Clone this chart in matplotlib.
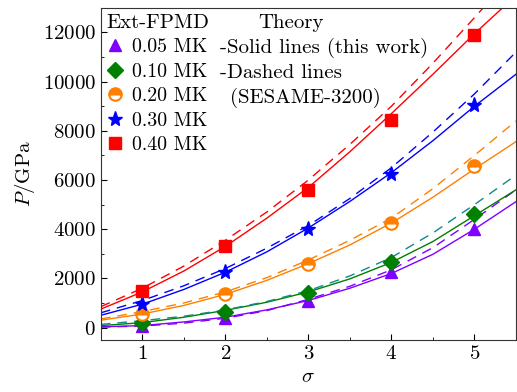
import matplotlib
matplotlib.use("Agg")
import matplotlib.pyplot as plt
import numpy as np

plt.rcParams['font.family'] = 'serif'
plt.rcParams['font.serif'] = ['cmr10']
plt.rcParams['mathtext.fontset'] = 'cm'
plt.rcParams['axes.formatter.use_mathtext'] = True
plt.rcParams['axes.unicode_minus'] = False

# Ext-FPMD data points
sigma = [1, 2, 3, 4, 5]
labels = ['0.05 MK', '0.10 MK', '0.20 MK', '0.30 MK', '0.40 MK']
p_005 = [60, 400, 1100, 2250, 4000]
p_010 = [180, 650, 1400, 2650, 4600]
p_020 = [550, 1350, 2600, 4250, 6550]
p_030 = [950, 2250, 4000, 6250, 9050]
p_040 = [1500, 3300, 5600, 8450, 11900]

# Theory curves
sig_c = [0.5, 1.0, 1.5, 2.0, 2.5, 3.0, 3.5, 4.0, 4.5, 5.0, 5.5]
solid_005 = [30, 80, 230, 420, 720, 1100, 1600, 2200, 2980, 4000, 5120]
solid_010 = [80, 200, 420, 700, 1030, 1450, 1980, 2650, 3500, 4550, 5600]
solid_020 = [300, 550, 900, 1350, 1920, 2600, 3360, 4250, 5300, 6450, 7560]
solid_030 = [500, 950, 1550, 2250, 3080, 4050, 5130, 6300, 7600, 9000, 10300]
solid_040 = [750, 1450, 2300, 3300, 4450, 5700, 7150, 8700, 10300, 11950, 13500]
dash_005 = [20, 60, 180, 380, 690, 1150, 1680, 2350, 3250, 4400, 5600]
dash_010 = [130, 280, 460, 720, 1060, 1500, 2100, 2850, 3850, 5000, 6200]
dash_020 = [350, 650, 1000, 1450, 2030, 2750, 3550, 4450, 5650, 7000, 8400]
dash_030 = [600, 1100, 1700, 2400, 3230, 4150, 5250, 6500, 7950, 9500, 11200]
dash_040 = [850, 1600, 2500, 3550, 4700, 6000, 7450, 9000, 10750, 12600, 14500]

colors = ['#8000ff', '#008000', '#ff8000', '#0000ff', '#ff0000']
dash_colors = ['#8000ff', '#108a8a', '#ff8000', '#0000ff', '#ff0000']
markers = ['^', 'D', 'o', '*', 's']
msizes = [9, 8, 9, 11, 8]

FS = 15
LFS = 14.3

fig = plt.figure(figsize=(5.17, 3.92), dpi=100)
ax = fig.add_axes([0.195, 0.133, 0.803, 0.847])

solids = [solid_005, solid_010, solid_020, solid_030, solid_040]
dashes = [dash_005, dash_010, dash_020, dash_030, dash_040]
points = [p_005, p_010, p_020, p_030, p_040]

for s, d, c, dc in zip(solids, dashes, colors, dash_colors):
    ax.plot(sig_c, s, '-', color=c, lw=1.0, zorder=2)
    ax.plot(sig_c, d, '--', color=dc, lw=1.0, dashes=(7, 5), zorder=2)

handles = []
for p, c, m, ms, lab in zip(points, colors, markers, msizes, labels):
    if m == 'o':
        h, = ax.plot(sigma, p, linestyle='none', marker='o', ms=ms, color=c,
                     markerfacecolor=c, fillstyle='top', markerfacecoloralt='white',
                     markeredgecolor=c, mew=1.5, label=lab, zorder=3)
    else:
        h, = ax.plot(sigma, p, linestyle='none', marker=m, ms=ms, color=c,
                     markeredgecolor=c, label=lab, zorder=3)
    handles.append(h)

ax.set_xlim(0.5, 5.5)
ax.set_ylim(-500, 13000)
ax.set_xticks([1, 2, 3, 4, 5])
ax.set_xticks([0.5, 1.5, 2.5, 3.5, 4.5, 5.5], minor=True)
ax.set_yticks([0, 2000, 4000, 6000, 8000, 10000, 12000])
ax.set_yticks(np.arange(1000, 13000, 2000), minor=True)
ax.tick_params(direction='in', which='both', top=False, right=False, labelsize=FS)
ax.tick_params(which='major', length=4)
ax.tick_params(which='minor', length=2.5)
for sp in ax.spines.values():
    sp.set_color('#333333')

ax.set_xlabel(r'$\sigma$', fontsize=FS)
ax.set_ylabel(r'$P$/GPa', fontsize=FS)

leg = ax.legend(handles=handles, loc='upper left', frameon=False, fontsize=LFS,
                title='Ext-FPMD', title_fontsize=FS, alignment='left',
                handlelength=0.8, handletextpad=0.45, labelspacing=0.33,
                borderaxespad=0.15, borderpad=0.15)

ax.text(0.458, 0.953, 'Theory', transform=ax.transAxes, fontsize=FS, ha='center', va='center')
ax.text(0.287, 0.878, '-Solid lines (this work)', transform=ax.transAxes, fontsize=FS, ha='left', va='center')
ax.text(0.287, 0.803, '-Dashed lines', transform=ax.transAxes, fontsize=FS, ha='left', va='center')
ax.text(0.311, 0.730, '(SESAME-3200)', transform=ax.transAxes, fontsize=FS, ha='left', va='center')

fig.savefig('out.png', dpi=100)
